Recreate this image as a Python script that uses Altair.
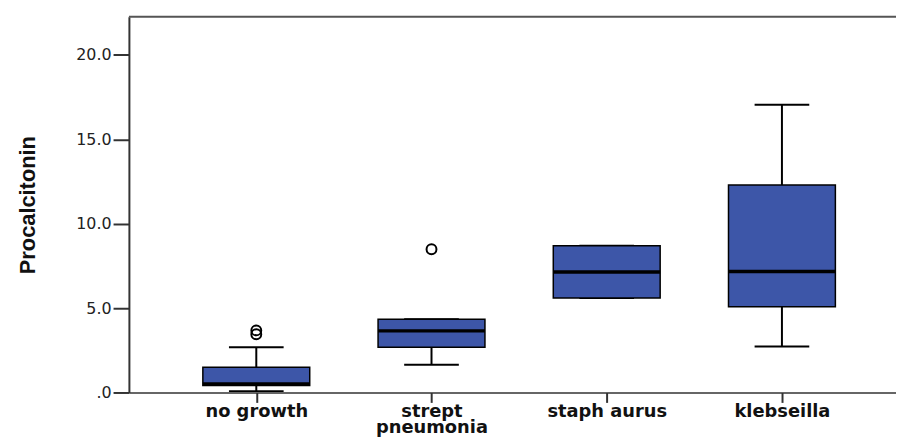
import json
import altair as alt
import pandas as pd

# ---- data ----
categories = ["no growth", "strept pneumonia", "staph aurus", "klebseilla"]
label_lines = [["no growth"], ["strept", "pneumonia"], ["staph aurus"], ["klebseilla"]]
whisker_low = [0.08, 1.64, 5.60, 2.72]
q1 = [0.41, 2.68, 5.60, 5.08]
median = [0.50, 3.65, 7.14, 7.17]
q3 = [1.50, 4.34, 8.70, 12.30]
whisker_high = [2.68, 4.34, 8.70, 17.05]
outlier_cat = ["no growth", "no growth", "strept pneumonia"]
outlier_val = [3.45, 3.68, 8.49]
y_ticks = [0, 5, 10, 15, 20]

pos = list(range(len(categories)))
df = pd.DataFrame({
    "category": categories,
    "pos": pos,
    "wlow": whisker_low,
    "q1": q1,
    "median": median,
    "q3": q3,
    "whigh": whisker_high,
})
out_df = pd.DataFrame({
    "category": outlier_cat,
    "value": outlier_val,
})
out_df["pos"] = [categories.index(c) for c in outlier_cat]

W, H = 774, 379
xscale = alt.Scale(domain=[-0.727, 3.651], nice=False, zero=False)
yscale = alt.Scale(domain=[0, 22.26], nice=False, zero=False)

base = alt.Chart(df).transform_calculate(
    bl="datum.pos - 0.305", br="datum.pos + 0.305",
    cl="datum.pos - 0.156", cr="datum.pos + 0.156",
)

x_axis = alt.Axis(
    values=pos,
    labelExpr=f"{json.dumps(label_lines)}[datum.value]",
    labelFont="DejaVu Sans", labelFontWeight="bold", labelFontSize=18,
    labelColor="#111", labelLineHeight=16, labelPadding=0,
    tickSize=10, tickWidth=2, tickColor="#333",
    domainColor="#333", domainWidth=1.5, grid=False, title=None,
)
y_axis = alt.Axis(
    values=y_ticks,
    labelExpr="datum.value == 0 ? '.0' : format(datum.value, '.1f')",
    labelFont="DejaVu Sans", labelFontSize=16, labelColor="#222",
    labelPadding=2, tickSize=16, tickWidth=2, tickColor="#333",
    domainColor="#333", domainWidth=2, grid=False,
    title="Procalcitonin", titleFont="Liberation Sans",
    titleFontWeight="bold", titleFontSize=22, titleColor="#111",
    titleX=-95, titleY=H / 2, titleBaseline="alphabetic", titleAngle=270,
)


def X(field):
    return alt.X(field, type="quantitative", scale=xscale, axis=x_axis)


def Y(field):
    return alt.Y(field, type="quantitative", scale=yscale, axis=y_axis)


whisker = base.mark_rule(color="black", strokeWidth=2).encode(
    x=X("pos"), y=Y("wlow"), y2="whigh:Q",
)
cap_low = base.mark_rule(color="black", strokeWidth=2).encode(
    x=X("cl"), x2="cr:Q", y=Y("wlow"),
)
cap_high = base.mark_rule(color="black", strokeWidth=2).encode(
    x=X("cl"), x2="cr:Q", y=Y("whigh"),
)
box = base.mark_bar(fill="#3d56a8", stroke="black", strokeWidth=1.5).encode(
    x=X("bl"), x2="br:Q", y=Y("q1"), y2="q3:Q",
)
med = base.mark_rule(color="black", strokeWidth=3.5).encode(
    x=X("bl"), x2="br:Q", y=Y("median"),
)
outliers = alt.Chart(out_df).mark_point(
    shape="circle", filled=False, color="black", strokeWidth=2, size=100, opacity=1
).encode(
    x=X("pos"), y=Y("value"),
)
top_line = alt.Chart(pd.DataFrame({"a": [0]})).mark_rule(
    color="#555", strokeWidth=2
).encode(x=alt.value(0), x2=alt.value(W), y=alt.value(0))

chart = alt.layer(whisker, cap_low, cap_high, box, med, outliers, top_line).properties(
    width=W, height=H,
    autosize=alt.AutoSizeParams(type="none"),
    padding={"left": 122, "top": 7, "right": 0, "bottom": 45},
    background="white",
).configure_view(stroke=None)

chart.save("out.html", embed_options={"renderer": "svg", "actions": False})
